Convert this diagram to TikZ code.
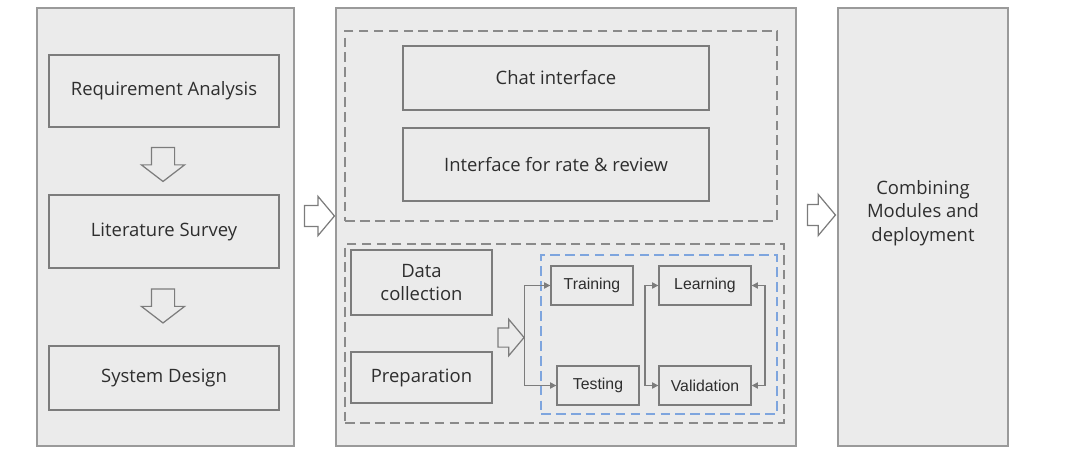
\documentclass[tikz,border=0pt]{standalone}
\usepackage{fontspec}
\usepackage{xcolor}
\usetikzlibrary{shapes.arrows,arrows.meta}
\newfontfamily\opensans{Open Sans}
\newfontfamily\arialsans{Liberation Sans}
\definecolor{panelgray}{HTML}{EBEBEB}
\definecolor{edgegray}{HTML}{9A9A9A}
\definecolor{boxgray}{HTML}{7C7C7C}
\definecolor{textgray}{HTML}{2E2E2E}
\definecolor{dashgray}{HTML}{8A8A8A}
\definecolor{dashblue}{HTML}{7EA5DE}

\begin{document}
\begin{tikzpicture}[
    x=0.02cm, y=-0.02cm,
    panel/.style={rectangle, draw=edgegray, fill=panelgray, line width=0.7pt,
                  inner sep=0pt},
    stepbox/.style={rectangle, draw=boxgray, line width=0.8pt, text=textgray,
                    align=center, inner sep=0pt,
                    font=\opensans\fontsize{10.5}{13.5}\selectfont},
    smallbox/.style={rectangle, draw=boxgray, line width=0.8pt, text=textgray,
                     inner sep=0pt, minimum height=0.78cm,
                     font=\arialsans\fontsize{9}{11}\selectfont},
    group/.style={rectangle, draw=dashgray, line width=0.8pt, inner sep=0pt,
                  dash pattern=on 5.5pt off 3pt},
    bigarrow/.style={single arrow, draw=boxgray, line width=0.7pt, inner xsep=0pt,
                     single arrow tip angle=105},
    flow/.style={draw=boxgray, line width=0.7pt,
                 -{Triangle[length=3.5pt, width=3.5pt]}}
]
\useasboundingbox (0,0) rectangle (1078,466);

\node[panel, minimum width=5.14cm, minimum height=8.76cm] (plan) at (165.5,227) {};
\node[panel, minimum width=9.2cm, minimum height=8.76cm] (build) at (566,227) {};
\node[panel, minimum width=3.4cm, minimum height=8.76cm] (deploy) at (923,227) {};

\node[stepbox, minimum width=4.6cm, minimum height=1.44cm] (req) at (164,91) {Requirement Analysis};
\node[stepbox, minimum width=4.6cm, minimum height=1.46cm] (lit) at (164,231.5) {Literature Survey};
\node[stepbox, minimum width=4.6cm, minimum height=1.28cm] (sys) at (164,378) {System Design};
\node[bigarrow, rotate=-90, inner ysep=0.22cm, single arrow head extend=0.2cm,
      minimum height=0.68cm] (down1) at (163,160) {};
\node[bigarrow, rotate=-90, inner ysep=0.22cm, single arrow head extend=0.2cm,
      minimum height=0.68cm] (down2) at (163,301.5) {};

\node[bigarrow, inner ysep=0.2cm, single arrow head extend=0.18cm,
      single arrow tip angle=100, minimum height=0.6cm] (next1) at (315,216) {};
\node[bigarrow, inner ysep=0.2cm, single arrow head extend=0.2cm,
      single arrow tip angle=100, minimum height=0.56cm] (next2) at (817,215) {};

\node[group, minimum width=8.64cm, minimum height=3.8cm] (ui) at (561,126) {};
\node[stepbox, minimum width=6.12cm, minimum height=1.28cm] (chat) at (556,78) {Chat interface};
\node[stepbox, minimum width=6.12cm, minimum height=1.46cm] (rate) at (556,164.5) {Interface for rate \& review};

\node[group, minimum width=8.78cm, minimum height=3.58cm] (model) at (564.5,333.5) {};
\node[stepbox, minimum width=2.82cm, minimum height=1.3cm] (data) at (421.5,282.5) {Data\\collection};
\node[stepbox, minimum width=2.82cm, minimum height=1.02cm] (prep) at (421.5,377.5) {Preparation};
\node[bigarrow, inner ysep=0.18cm, single arrow head extend=0.17cm,
      single arrow tip angle=100, minimum height=0.52cm] (feed) at (507,337.5) {};

\node[group, draw=dashblue, minimum width=4.72cm, minimum height=3.18cm] (loop) at (659,334.5) {};
\node[smallbox, minimum width=1.64cm] (train) at (592,285.5) {Training};
\node[smallbox, minimum width=1.84cm] (learn) at (705,285.5) {Learning};
\node[smallbox, minimum width=1.64cm] (test) at (598,385.5) {Testing};
\node[smallbox, minimum width=1.84cm] (valid) at (705,385.5) {Validation};
\coordinate (lj) at (645,336);
\coordinate (rj) at (765,336);

\draw[flow] (feed.tip) |- (train.west);
\draw[flow] (feed.tip) |- (test.west);
\draw[flow] (lj) |- (learn.west);
\draw[flow] (lj) |- (valid.west);
\draw[flow] (rj) |- (learn.east);
\draw[flow] (rj) |- (valid.east);

\node[text=textgray, align=center, font=\opensans\fontsize{10.5}{13.5}\selectfont] (combine) at (923,213) {Combining\\Modules and\\deployment};
\end{tikzpicture}
\end{document}
